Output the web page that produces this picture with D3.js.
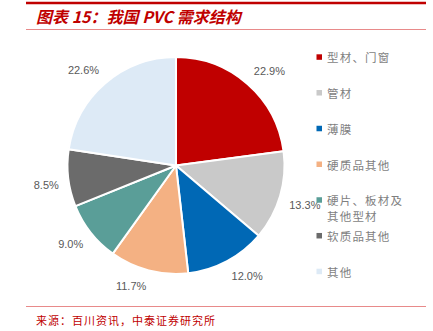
<!DOCTYPE html>
<html>
<head>
<meta charset="utf-8">
<script src="https://cdn.jsdelivr.net/npm/d3@7"></script>
<style>
  html, body { margin: 0; padding: 0; background: #fff; }
  svg { display: block; }
</style>
</head>
<body>
<svg id="chart" width="433" height="331"></svg>
<script>
// PVC demand structure (share, %)
const categories = ["型材、门窗", "管材", "薄膜", "硬质品其他", "硬片、板材及其他型材", "软质品其他", "其他"];
const legendLines = [["型材、门窗"], ["管材"], ["薄膜"], ["硬质品其他"], ["硬片、板材及", "其他型材"], ["软质品其他"], ["其他"]];
const values = [22.9, 13.3, 12.0, 11.7, 9.0, 8.5, 22.6];
const colors = ["#C00000", "#C9C9C9", "#0068B5", "#F4B183", "#5A9E98", "#6B6B6B", "#DDEAF6"];

const svg = d3.select("#chart");
const CJK = "'Noto Sans CJK SC', 'Noto Sans', sans-serif";

// Header: thick rule, title, thin rule
svg.append("line").attr("x1", 26).attr("x2", 426).attr("y1", 3).attr("y2", 3)
  .attr("stroke", "#C00000").attr("stroke-width", 2.5);
svg.append("text").attr("x", 36).attr("y", 23)
  .attr("fill", "#C00000").attr("font-family", CJK)
  .attr("font-size", 16).attr("font-weight", "bold").attr("font-style", "italic")
  .text("图表 15：我国 PVC 需求结构");
svg.append("line").attr("x1", 26).attr("x2", 426).attr("y1", 29.5).attr("y2", 29.5)
  .attr("stroke", "#E88A8A").attr("stroke-width", 1);

// Footer
svg.append("line").attr("x1", 26).attr("x2", 426).attr("y1", 306.5).attr("y2", 306.5)
  .attr("stroke", "#E88A8A").attr("stroke-width", 1);
svg.append("text").attr("x", 36).attr("y", 325)
  .attr("fill", "#C00000").attr("font-family", CJK).attr("font-size", 11)
  .attr("letter-spacing", 1)
  .text("来源：百川资讯，中泰证券研究所");

// Pie
const cx = 176, cy = 165.5, R = 108.5, labelGap = 9.5;
const pie = d3.pie().sort(null).value(d => d);
const arcs = pie(values);
const arc = d3.arc().innerRadius(0).outerRadius(R);
const anchorArc = d3.arc().innerRadius(R + labelGap).outerRadius(R + labelGap);

const g = svg.append("g").attr("transform", `translate(${cx},${cy})`);
g.selectAll("path.slice").data(arcs).enter().append("path")
  .attr("class", "slice")
  .attr("d", arc)
  .attr("fill", (d, i) => colors[i])
  .attr("stroke", "#fff").attr("stroke-width", 2).attr("stroke-linejoin", "round");

// Outside-end labels: the label box corner nearest the pie sits on the anchor point
g.selectAll("text.lbl").data(arcs).enter().append("text")
  .attr("class", "lbl")
  .attr("text-anchor", "middle").attr("dominant-baseline", "central")
  .attr("fill", "#595959").attr("font-family", "'Liberation Sans', Arial, sans-serif")
  .attr("font-size", 11)
  .text(d => d.data.toFixed(1) + "%")
  .each(function(d) {
    const [ax, ay] = anchorArc.centroid(d);
    const w = this.getComputedTextLength(), h = 12;
    const x = ax + Math.sign(ax) * w / 2;
    const y = ay + Math.sign(ay) * h / 2;
    d3.select(this).attr("transform", `translate(${x},${y})`);
  });

// Legend
const legendY = d3.scaleLinear().domain([0, categories.length - 1]).range([57.3, 271.7]);
const lg = svg.append("g");
categories.forEach((c, i) => {
  const y = legendY(i);
  lg.append("rect").attr("x", 316.5).attr("y", y - 3).attr("width", 5.5).attr("height", 5.5)
    .attr("fill", colors[i]);
  legendLines[i].forEach((line, j) => {
    lg.append("text").attr("x", 327).attr("y", y + j * 16)
      .attr("dominant-baseline", "central")
      .attr("fill", "#7F7F7F").attr("font-family", CJK).attr("font-size", 11.5)
      .attr("letter-spacing", 1.2)
      .text(line);
  });
});
</script>
</body>
</html>
